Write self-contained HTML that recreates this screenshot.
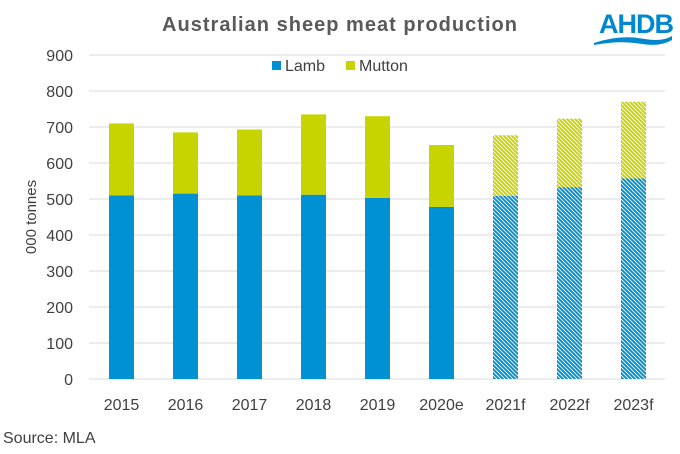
<!DOCTYPE html>
<html><head><meta charset="utf-8"><style>
html,body{margin:0;padding:0;background:#fff;}
svg{display:block;font-family:"Liberation Sans",Arial,sans-serif;}
</style></head><body>
<svg width="680" height="454" viewBox="0 0 680 454" xmlns="http://www.w3.org/2000/svg">
<defs>
<pattern id="hb" width="4" height="4" patternUnits="userSpaceOnUse">
<rect width="4" height="4" fill="#fff"/>
<path d="M-1,-1 L5,5 M-1,3 L1,5 M3,-1 L5,1" stroke="#0090D4" stroke-width="2"/>
</pattern>
<pattern id="hm" width="4" height="4" patternUnits="userSpaceOnUse">
<rect width="4" height="4" fill="#fff"/>
<path d="M-1,-1 L5,5 M-1,3 L1,5 M3,-1 L5,1" stroke="#C8D400" stroke-width="2"/>
</pattern>
</defs>
<rect width="680" height="454" fill="#fff"/>
<text x="162" y="31" font-size="20" font-weight="bold" fill="#595959" textLength="355" lengthAdjust="spacing">Australian  sheep meat production</text>
<text x="636" y="33" text-anchor="middle" font-size="27" font-weight="bold" fill="#0088CF" letter-spacing="-1">AHDB</text>
<path d="M594,43 Q620,34 645,39 Q662,42 672,36 L672,40 Q660,47 642,44 Q620,40 594,45 Z" fill="#0088CF"/>
<g stroke="#d9d9d9" stroke-width="1">
<line x1="89" x2="665" y1="55" y2="55"/>
<line x1="89" x2="665" y1="91" y2="91"/>
<line x1="89" x2="665" y1="127" y2="127"/>
<line x1="89" x2="665" y1="163" y2="163"/>
<line x1="89" x2="665" y1="199" y2="199"/>
<line x1="89" x2="665" y1="235" y2="235"/>
<line x1="89" x2="665" y1="271" y2="271"/>
<line x1="89" x2="665" y1="307" y2="307"/>
<line x1="89" x2="665" y1="343" y2="343"/>
<line x1="89" x2="665" y1="379" y2="379"/>
</g>
<g font-size="16" fill="#404040" text-anchor="end">
<text x="73" y="61">900</text><text x="73" y="97">800</text><text x="73" y="133">700</text>
<text x="73" y="169">600</text><text x="73" y="205">500</text><text x="73" y="241">400</text>
<text x="73" y="277">300</text><text x="73" y="313">200</text><text x="73" y="349">100</text>
<text x="73" y="385">0</text>
</g>
<text transform="translate(36,217) rotate(-90)" text-anchor="middle" font-size="15" fill="#404040">000 tonnes</text>
<g>
<rect x="109" y="195.4" width="25" height="183.6" fill="#0090D4"/><rect x="109" y="123.4" width="25" height="72" fill="#C8D400"/>
<rect x="173" y="193.6" width="25" height="185.4" fill="#0090D4"/><rect x="173" y="132.4" width="25" height="61.2" fill="#C8D400"/>
<rect x="237" y="195.4" width="25" height="183.6" fill="#0090D4"/><rect x="237" y="129.5" width="25" height="65.9" fill="#C8D400"/>
<rect x="301" y="194.7" width="25" height="184.3" fill="#0090D4"/><rect x="301" y="114.4" width="25" height="80.3" fill="#C8D400"/>
<rect x="365" y="197.9" width="25" height="181.1" fill="#0090D4"/><rect x="365" y="116.2" width="25" height="81.7" fill="#C8D400"/>
<rect x="429" y="206.9" width="25" height="172.1" fill="#0090D4"/><rect x="429" y="145" width="25" height="61.9" fill="#C8D400"/>
<rect x="493" y="196" width="25" height="183" fill="url(#hb)"/><rect x="493" y="135.3" width="25" height="60.7" fill="url(#hm)"/>
<rect x="557" y="187.1" width="25" height="191.9" fill="url(#hb)"/><rect x="557" y="118.7" width="25" height="68.4" fill="url(#hm)"/>
<rect x="621" y="178.5" width="25" height="200.5" fill="url(#hb)"/><rect x="621" y="101.8" width="25" height="76.7" fill="url(#hm)"/>
</g>
<g font-size="16" fill="#404040" text-anchor="middle">
<text x="121.5" y="410">2015</text><text x="185.5" y="410">2016</text><text x="249.5" y="410">2017</text>
<text x="313.5" y="410">2018</text><text x="377.5" y="410">2019</text><text x="441.5" y="410">2020e</text>
<text x="505.5" y="410">2021f</text><text x="569.5" y="410">2022f</text><text x="633.5" y="410">2023f</text>
</g>
<rect x="272" y="61" width="9" height="9" fill="#0090D4"/>
<text x="285" y="71" font-size="16" fill="#404040">Lamb</text>
<rect x="346" y="61" width="9" height="9" fill="#C8D400"/>
<text x="359" y="71" font-size="16" fill="#404040">Mutton</text>
<text x="3" y="443" font-size="16" fill="#404040">Source: MLA</text>
</svg>
</body></html>
